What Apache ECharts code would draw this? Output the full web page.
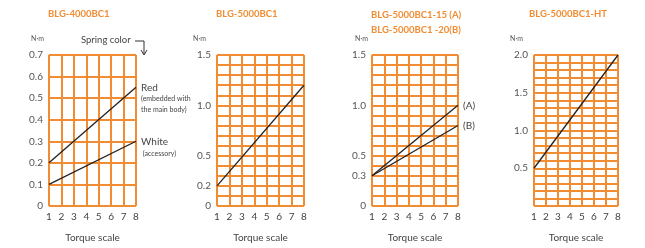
<!DOCTYPE html>
<html>
<head>
<meta charset="utf-8">
<script src="https://cdn.jsdelivr.net/npm/echarts@6/dist/echarts.min.js"></script>
<style>
html,body{margin:0;padding:0;background:#fff;}
#main{width:645px;height:248px;}
</style>
</head>
<body>
<div id="main"></div>
<script>
var myChart = echarts.init(document.getElementById('main'));

// torque scale ends
var xTorque = [1, 8];
// BLG-4000BC1
var red4000 = [0.2, 0.55];
var white4000 = [0.1, 0.3];
// BLG-5000BC1
var bc5000 = [0.2, 1.2];
// BLG-5000BC1-15 (A) / -20 (B)
var lineA = [0.3, 1.0];
var lineB = [0.3, 0.8];
// BLG-5000BC1-HT
var ht5000 = [0.5, 2.0];

var xLabels = ['1', '2', '3', '4', '5', '6', '7', '8'];
var yLabels1 = ['0', '0.1', '0.2', '0.3', '0.4', '0.5', '0.6', '0.7'];
var yLabels2 = ['0', '0.2', '0.5', '1.0', '1.5'];
var yLabels3 = ['0', '0.3', '0.5', '1.0', '1.5'];
var yLabels4 = ['0.5', '1.0', '1.5', '2.0'];

var titles = ['BLG-4000BC1', 'BLG-5000BC1', 'BLG-5000BC1-15 (A)\nBLG-5000BC1 -20(B)', 'BLG-5000BC1-HT'];

var ORANGE = '#F28C32';
var FONT = 'Lato';

var grids = [
    {left: 49, width: 87, top: 55, height: 158},
    {left: 217, width: 87, top: 55, height: 158},
    {left: 372, width: 86, top: 55, height: 158},
    {left: 534, width: 84, top: 55, height: 158}
];
var yMax = [0.7, 1.5, 1.5, 2.0];
var yShow = [yLabels1, yLabels2, yLabels3, yLabels4];
var unitPad = [5, 11, 4, 11];

var pair = arr => xTorque.map((x, i) => [x, arr[i]]);

var xAxes = grids.map((g, i) => ({
    type: 'value', gridIndex: i, min: 1, max: 8, interval: 1,
    axisLine: {show: false}, axisTick: {show: false},
    splitLine: {show: true, lineStyle: {color: ORANGE, width: 2}},
    axisLabel: {
        color: '#444', fontSize: 10, fontFamily: FONT, margin: 6,
        formatter: v => xLabels[v - 1] || ''
    },
    name: 'Torque scale', nameLocation: 'middle', nameGap: 27,
    nameTextStyle: {color: '#444', fontSize: 10, fontFamily: FONT}
}));

var yAxes = grids.map((g, i) => ({
    type: 'value', gridIndex: i, min: 0, max: yMax[i], interval: 0.1,
    axisLine: {show: false}, axisTick: {show: false},
    splitLine: {show: true, lineStyle: {color: ORANGE, width: 2}},
    axisLabel: {
        color: '#555', fontSize: 10, fontFamily: FONT, margin: 6,
        formatter: v => {
            var s = v.toFixed(1);
            if (s === '0.0') s = '0';
            return yShow[i].indexOf(s) >= 0 ? s : '';
        }
    },
    name: 'N·m', nameGap: 13,
    nameTextStyle: {color: '#555', fontSize: 7, fontFamily: FONT, align: 'right', padding: [0, unitPad[i], 0, 0]}
}));

var lineStyle = {color: '#222', width: 1.3};
var mk = (gi, data, label) => ({
    type: 'line', xAxisIndex: gi, yAxisIndex: gi, data: pair(data),
    symbol: 'none', lineStyle: lineStyle, animation: false,
    endLabel: label
});

var option = {
    animation: false,
    title: titles.map((t, i) => ({
        text: t, left: grids[i].left - 1 + (i === 3 ? -4 : 0), top: i === 2 ? 7 : 6, padding: 0,
        textStyle: {color: ORANGE, fontSize: 9.5, fontWeight: 'bold', fontFamily: FONT, lineHeight: 15}
    })),
    grid: grids,
    xAxis: xAxes,
    yAxis: yAxes,
    series: [
        mk(0, red4000, {
            show: true, distance: 5, offset: [0, 11],
            formatter: '{a|Red}\n{b|(embedded with}\n{b|the main body)}',
            rich: {
                a: {color: '#444', fontSize: 10, fontFamily: FONT, lineHeight: 12},
                b: {color: '#444', fontSize: 7, fontFamily: FONT, lineHeight: 11}
            }
        }),
        mk(0, white4000, {
            show: true, distance: 5, offset: [0, 6],
            formatter: '{a|White}\n{b| (accessory)}',
            rich: {
                a: {color: '#444', fontSize: 10, fontFamily: FONT, lineHeight: 12},
                b: {color: '#444', fontSize: 7, fontFamily: FONT, lineHeight: 11}
            }
        }),
        mk(1, bc5000, {show: false}),
        mk(2, lineA, {show: true, distance: 5, formatter: '(A)', color: '#444', fontSize: 10, fontFamily: FONT}),
        mk(2, lineB, {show: true, distance: 5, formatter: '(B)', color: '#444', fontSize: 10, fontFamily: FONT}),
        mk(3, ht5000, {show: false})
    ],
    graphic: [
        {type: 'text', left: 81, top: 35, style: {text: 'Spring color', fill: '#444', fontSize: 9.5, fontFamily: FONT}},
        {type: 'polyline', shape: {points: [[135, 41], [144, 41], [144, 54]]}, style: {stroke: '#333', lineWidth: 1, fill: null}},
        {type: 'polyline', shape: {points: [[141, 50], [144, 55], [147, 50]]}, style: {stroke: '#333', lineWidth: 1, fill: null}}
    ]
};

myChart.setOption(option);
</script>
</body>
</html>
